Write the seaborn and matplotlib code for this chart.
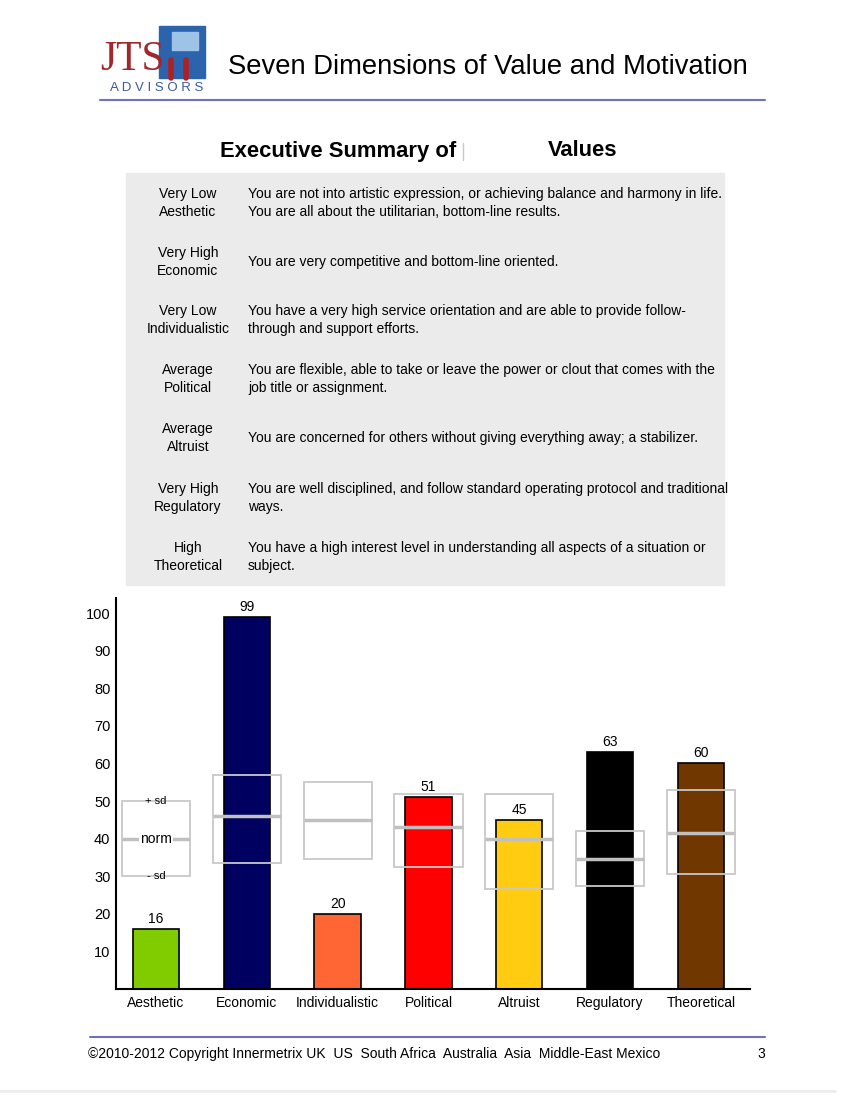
import matplotlib
matplotlib.use("Agg")
import matplotlib.pyplot as plt
import seaborn as sns
from matplotlib.patches import Rectangle
from matplotlib.lines import Line2D

# datos del grafico
categorias = ["Aesthetic", "Economic", "Individualistic", "Political",
              "Altruist", "Regulatory", "Theoretical"]
puntajes = [16, 99, 20, 51, 45, 63, 60]
norma_baja = [30, 33.5, 34.5, 32.5, 26.5, 27.5, 30.5]
norma_alta = [50, 57, 55, 52, 52, 42, 53]
norma_media = [40, 46, 45, 43, 40, 34.5, 41.5]
colores = ["#80cc00", "#000060", "#ff6633", "#ff0000",
           "#ffcc11", "#000000", "#703800"]
yticks = [10, 20, 30, 40, 50, 60, 70, 80, 90, 100]

# textos del resumen
niveles = ["Very Low\nAesthetic", "Very High\nEconomic", "Very Low\nIndividualistic",
           "Average\nPolitical", "Average\nAltruist", "Very High\nRegulatory",
           "High\nTheoretical"]
descripciones = [
    "You are not into artistic expression, or achieving balance and harmony in life.\n"
    "You are all about the utilitarian, bottom-line results.",
    "You are very competitive and bottom-line oriented.",
    "You have a very high service orientation and are able to provide follow-\n"
    "through and support efforts.",
    "You are flexible, able to take or leave the power or clout that comes with the\n"
    "job title or assignment.",
    "You are concerned for others without giving everything away; a stabilizer.",
    "You are well disciplined, and follow standard operating protocol and traditional\n"
    "ways.",
    "You have a high interest level in understanding all aspects of a situation or\n"
    "subject.",
]
filas_y = [203, 262, 320, 379, 438, 498, 557]

sns.set_style("white")
plt.rcParams["font.family"] = ["Liberation Sans", "DejaVu Sans"]
plt.rcParams["text.color"] = "black"
plt.rcParams["xtick.color"] = "black"
plt.rcParams["ytick.color"] = "black"

W, H = 852, 1102
fig = plt.figure(figsize=(W / 100, H / 100), dpi=100)


def px(x, y):
    return x / W, 1 - y / H


# encabezado
fig.text(*px(100, 60), "JTS", fontsize=30, color="#a0282a",
         family="Liberation Serif", va="center", ha="left")
fig.add_artist(Rectangle(px(159, 78), 46 / W, 52 / H, transform=fig.transFigure,
                         color="#2b63ad", zorder=2))
fig.add_artist(Rectangle(px(172, 50), 26 / W, 18 / H, transform=fig.transFigure,
                         color="#9ec3e6", zorder=3))
for xr in (171, 186):
    fig.add_artist(Line2D([xr / W, xr / W], [1 - 60 / H, 1 - 78 / H],
                          transform=fig.transFigure, color="#b02020", lw=4, zorder=4))
fig.text(*px(157, 88), "A D V I S O R S", fontsize=9.5, color="#3a5a9a",
         va="center", ha="center")
fig.text(*px(228, 67), "Seven Dimensions of Value and Motivation",
         fontsize=19.7, va="center", ha="left")
fig.add_artist(Line2D([100 / W, 765 / W], [1 - 100 / H] * 2,
                      transform=fig.transFigure, color="#7070c0", lw=1.5))

# resumen ejecutivo
fig.text(*px(220, 151), "Executive Summary of", fontsize=15.8,
         weight="bold", va="center", ha="left")
fig.text(*px(548, 151), "Values", fontsize=15.8, weight="bold",
         va="center", ha="left")
fig.add_artist(Line2D([463 / W, 463 / W], [1 - 143 / H, 1 - 160 / H],
                      transform=fig.transFigure, color="#c8c8c8", lw=1))
fig.add_artist(Rectangle(px(126, 585), (724 - 126) / W, (585 - 173) / H,
                         transform=fig.transFigure, color="#ebebeb", zorder=0))
for nivel, desc, fy in zip(niveles, descripciones, filas_y):
    fig.text(*px(188, fy), nivel, fontsize=10, ha="center", va="center",
             linespacing=1.3)
    fig.text(*px(248, fy), desc, fontsize=10, ha="left", va="center",
             linespacing=1.3)

# grafico de barras
ax = fig.add_axes([116 / W, 1 - 989 / H, (750 - 116) / W, (989 - 598) / H])
sns.barplot(x=categorias, y=puntajes, hue=categorias, palette=colores,
            saturation=1, width=0.51, edgecolor="black", linewidth=1.2,
            errorbar=None, legend=False, ax=ax, zorder=2)

for i, (lo, hi, mid) in enumerate(zip(norma_baja, norma_alta, norma_media)):
    ax.add_patch(Rectangle((i - 0.375, lo), 0.75, hi - lo, fill=False,
                           ec="#c8c8c8", lw=1.3, zorder=4))
    ax.hlines(mid, i - 0.375, i + 0.375, color="#c0c0c0", lw=2.5, zorder=4)

for i, p in enumerate(puntajes):
    ax.text(i, p + 0.8, str(p), ha="center", va="bottom", fontsize=10, zorder=5)

ax.text(0, norma_media[0], "norm", ha="center", va="center", fontsize=10,
        zorder=6, bbox=dict(fc="white", ec="none", pad=0.5))
ax.text(0, norma_alta[0], "+ sd", ha="center", va="center", fontsize=8, zorder=6)
ax.text(0, norma_baja[0], "- sd", ha="center", va="center", fontsize=8, zorder=6)

ax.set_xlim(-0.44, 6.54)
ax.set_ylim(0, 104)
ax.set_yticks(yticks)
ax.set_yticklabels([str(t) for t in yticks], fontsize=10.5)
ax.tick_params(axis="both", length=0)
ax.tick_params(axis="x", pad=5, labelsize=10)
ax.tick_params(axis="y", pad=4)
sns.despine(ax=ax)
for s in ("left", "bottom"):
    ax.spines[s].set_color("black")
    ax.spines[s].set_linewidth(1.5)
ax.set_xlabel("")
ax.set_ylabel("")

# pie de pagina
fig.add_artist(Line2D([90 / W, 765 / W], [1 - 1037 / H] * 2,
                      transform=fig.transFigure, color="#7070c0", lw=1.5))
fig.text(*px(88, 1054), "\u00a92010-2012 Copyright Innermetrix UK  US  South Africa  "
         "Australia  Asia  Middle-East Mexico", fontsize=10, va="center", ha="left")
fig.text(*px(765, 1054), "3", fontsize=10, va="center", ha="right")
fig.add_artist(Line2D([0, 835 / W], [1 - 1091 / H] * 2,
                      transform=fig.transFigure, color="#ececec", lw=2))

fig.savefig("out.png", dpi=100)
